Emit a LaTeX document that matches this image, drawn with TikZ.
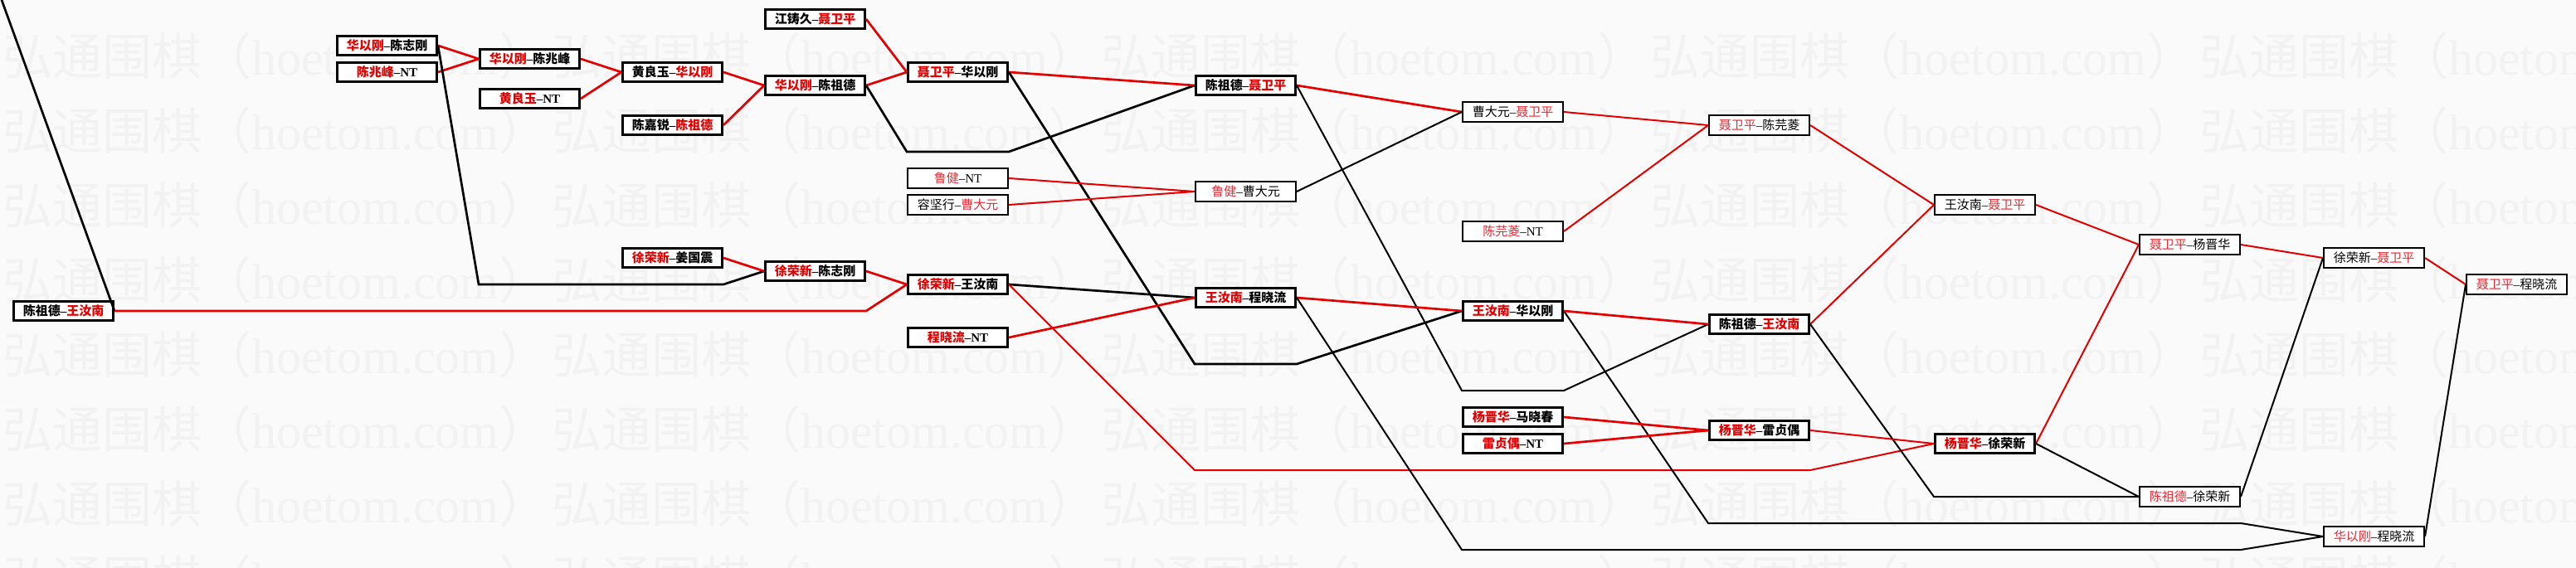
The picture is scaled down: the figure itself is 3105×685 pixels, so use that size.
\documentclass[tikz,border=0pt]{standalone}
\usepackage{fontspec}
\setmainfont{Liberation Serif}
\newfontfamily\cjk{Noto Sans CJK SC}
\definecolor{wred}{RGB}{226,0,0}
\definecolor{lred}{RGB}{232,40,50}
\definecolor{linered}{RGB}{228,0,0}
\definecolor{bgc}{RGB}{250,250,250}
\definecolor{wmc}{RGB}{242,242,242}
\colorlet{namered}{wred}
\newcommand\redA[2]{\textcolor{namered}{#1}{\rmfamily –}#2}
\newcommand\redB[2]{#1{\rmfamily –}\textcolor{namered}{#2}}
\begin{document}
\begin{tikzpicture}[x=1pt,y=-1pt,
 thickbox/.style={draw,line width=3pt,fill=white,minimum width=120pt,minimum height=23pt,inner sep=0pt,
   font=\cjk\bfseries\fontsize{15}{15}\selectfont,execute at begin node={\colorlet{namered}{wred}}},
 thinbox/.style={draw,line width=2pt,fill=white,minimum width=121pt,minimum height=24pt,inner sep=0pt,
   font=\cjk\fontsize{15}{15}\selectfont,execute at begin node={\colorlet{namered}{lred}}},
 rl/.style={draw=linered,line width=2pt},
 kl/.style={draw=black,line width=2pt},
 heavy/.style={line width=2.7pt},
 wm/.style={anchor=base west,inner sep=0pt,text=wmc,font=\fontsize{60}{60}\selectfont}
]
\useasboundingbox (0,0) rectangle (3105,685);
\fill[bgc] (0,0) rectangle (3105,685);
\begin{scope}
\clip (0,0) rectangle (3105,685);
\foreach \j in {0,...,7}{
  \foreach \k in {0,...,4}{
    \node[wm] (wm-\j-\k) at ({3+662*\k},{90+90*\j}) {{\cjk 弘通围棋（}hoetom.com{\cjk ）}};
  }
}
\end{scope}

% column 0
\node[thickbox] (X0) at (76.5,375) {\redB{陈祖德}{王汝南}};
% column 1
\node[thickbox] (A1) at (466.5,55) {\redA{华以刚}{陈志刚}};
\node[thickbox] (A2) at (466.5,87) {\redA{陈兆峰}{{\rmfamily NT}}};
% column 2
\node[thickbox] (B1) at (638.5,71) {\redA{华以刚}{陈兆峰}};
\node[thickbox] (B2) at (638.5,119) {\redA{黄良玉}{{\rmfamily NT}}};
% column 3
\node[thickbox] (C1) at (810.5,87) {\redB{黄良玉}{华以刚}};
\node[thickbox] (C2) at (810.5,151) {\redB{陈嘉锐}{陈祖德}};
\node[thickbox] (C3) at (810.5,311) {\redA{徐荣新}{姜国震}};
% column 4
\node[thickbox] (D1) at (982.5,23) {\redB{江铸久}{聂卫平}};
\node[thickbox] (D2) at (982.5,103) {\redA{华以刚}{陈祖德}};
\node[thickbox] (D3) at (982.5,327) {\redA{徐荣新}{陈志刚}};
% column 5
\node[thickbox] (E1) at (1154.5,87) {\redA{聂卫平}{华以刚}};
\node[thinbox] (E2) at (1154.5,215) {\redA{鲁健}{{\rmfamily NT}}};
\node[thinbox] (E3) at (1154.5,247) {\redB{容坚行}{曹大元}};
\node[thickbox] (E4) at (1154.5,343) {\redA{徐荣新}{王汝南}};
\node[thickbox] (E5) at (1154.5,407) {\redA{程晓流}{{\rmfamily NT}}};
% column 6
\node[thickbox] (F1) at (1501.5,103) {\redB{陈祖德}{聂卫平}};
\node[thinbox] (F2) at (1501.5,231) {\redA{鲁健}{曹大元}};
\node[thickbox] (F3) at (1501.5,359) {\redA{王汝南}{程晓流}};
% column 7
\node[thinbox] (G1) at (1823.5,135) {\redB{曹大元}{聂卫平}};
\node[thinbox] (G2) at (1823.5,279) {\redA{陈芫菱}{{\rmfamily NT}}};
\node[thickbox] (G3) at (1823.5,375) {\redA{王汝南}{华以刚}};
\node[thickbox] (G4) at (1823.5,503) {\redA{杨晋华}{马晓春}};
\node[thickbox] (G5) at (1823.5,535) {\redA{雷贞偶}{{\rmfamily NT}}};
% column 8
\node[thinbox] (H1) at (2120.5,151) {\redA{聂卫平}{陈芫菱}};
\node[thickbox] (H2) at (2120.5,391) {\redB{陈祖德}{王汝南}};
\node[thickbox] (H3) at (2120.5,519) {\redA{杨晋华}{雷贞偶}};
% column 9
\node[thinbox] (I1) at (2392.5,247) {\redB{王汝南}{聂卫平}};
\node[thickbox] (I2) at (2392.5,535) {\redA{杨晋华}{徐荣新}};
% column 10
\node[thinbox] (J1) at (2639.5,295) {\redA{聂卫平}{杨晋华}};
\node[thinbox] (J2) at (2639.5,599) {\redA{陈祖德}{徐荣新}};
% column 11
\node[thinbox] (K1) at (2861.5,311) {\redB{徐荣新}{聂卫平}};
\node[thinbox] (K2) at (2861.5,647) {\redA{华以刚}{程晓流}};
% column 12
\node[thinbox] (L1) at (3033.5,343) {\redA{聂卫平}{程晓流}};

% connectors
\draw[kl,heavy] (X0.east) -- (2,0);
\draw[rl,heavy] (X0.east) -- (1044,375) -- (E4.west);
\draw[rl,heavy] (A1.east) -- (B1.west);
\draw[rl,heavy] (A2.east) -- (B1.west);
\draw[kl,heavy] (A1.east) -- (577,343) -- (872,343) -- (D3.west);
\draw[rl,heavy] (B1.east) -- (C1.west);
\draw[rl,heavy] (B2.east) -- (C1.west);
\draw[rl,heavy] (C1.east) -- (D2.west);
\draw[rl,heavy] (C2.east) -- (D2.west);
\draw[rl,heavy] (C3.east) -- (D3.west);
\draw[rl,heavy] (D1.east) -- (E1.west);
\draw[rl,heavy] (D2.east) -- (E1.west);
\draw[kl,heavy] (D2.east) -- (1093,183) -- (1216,183) -- (F1.west);
\draw[rl,heavy] (D3.east) -- (E4.west);
\draw[rl,heavy] (E1.east) -- (F1.west);
\draw[kl,heavy] (E1.east) -- (1440,439) -- (1563,439) -- (G3.west);
\draw[rl] (E2.east) -- (F2.west);
\draw[rl] (E3.east) -- (F2.west);
\draw[kl,heavy] (E4.east) -- (F3.west);
\draw[rl] (E4.east) -- (1440,567) -- (2182,567) -- (I2.west);
\draw[rl,heavy] (E5.east) -- (F3.west);
\draw[rl,heavy] (F1.east) -- (G1.west);
\draw[kl] (F1.east) -- (1762,471) -- (1885,471) -- (H2.west);
\draw[kl] (F2.east) -- (G1.west);
\draw[rl,heavy] (F3.east) -- (G3.west);
\draw[kl] (F3.east) -- (1762,663) -- (2701,663) -- (K2.west);
\draw[kl] (G3.east) -- (2059,631) -- (2701,631) -- (K2.west);
\draw[rl] (G1.east) -- (H1.west);
\draw[rl] (G2.east) -- (H1.west);
\draw[rl,heavy] (G3.east) -- (H2.west);
\draw[rl,heavy] (G4.east) -- (H3.west);
\draw[rl,heavy] (G5.east) -- (H3.west);
\draw[rl] (H1.east) -- (I1.west);
\draw[rl] (H2.east) -- (I1.west);
\draw[kl] (H2.east) -- (2331,599) -- (J2.west);
\draw[rl] (H3.east) -- (I2.west);
\draw[rl] (I1.east) -- (J1.west);
\draw[rl] (I2.east) -- (J1.west);
\draw[kl] (I2.east) -- (J2.west);
\draw[rl] (J1.east) -- (K1.west);
\draw[kl] (J2.east) -- (K1.west);
\draw[rl] (K1.east) -- (L1.west);
\draw[kl] (K2.east) -- (L1.west);
\end{tikzpicture}
\end{document}
